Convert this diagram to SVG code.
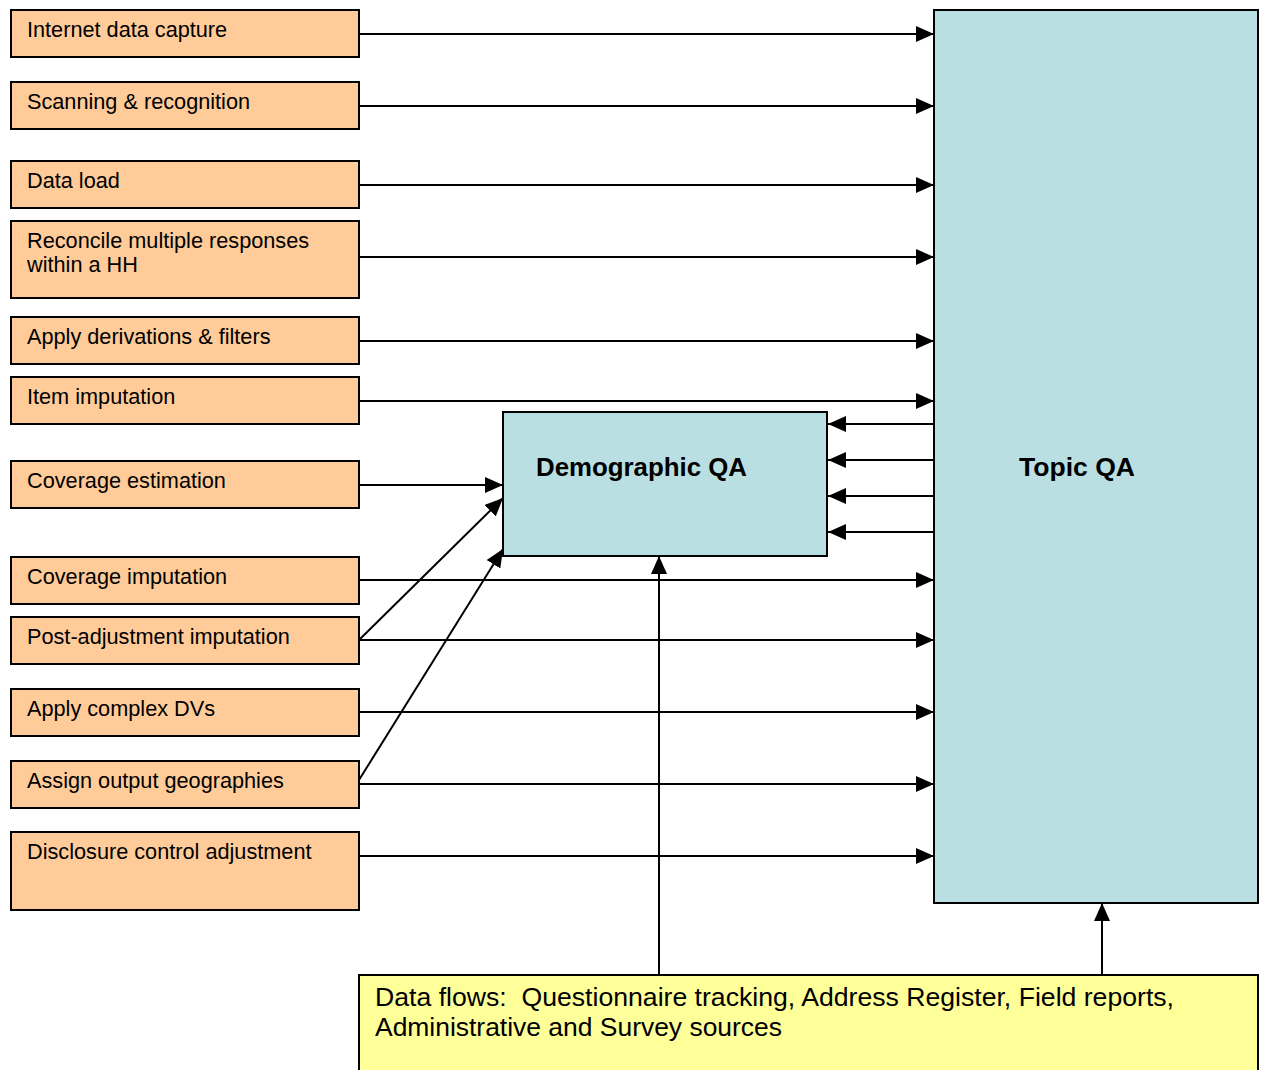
<svg xmlns="http://www.w3.org/2000/svg" width="1264" height="1070" viewBox="0 0 1264 1070">
<style>
.step{fill:#FFCC99;stroke:#000;stroke-width:2}
.qa{fill:#B9DFE2;stroke:#000;stroke-width:2}
.note{fill:#FFFF99;stroke:#000;stroke-width:2}
.t{font-family:"Liberation Sans",Arial,sans-serif;font-size:21.7px;fill:#000}
.b{font-family:"Liberation Sans",Arial,sans-serif;font-size:25px;font-weight:bold;fill:#000}
.n{font-family:"Liberation Sans",Arial,sans-serif;font-size:25px;fill:#000}
.c{stroke:#000;stroke-width:2;fill:none;marker-end:url(#ah)}
</style>
<defs>
<marker id="ah" markerWidth="18" markerHeight="16" refX="18" refY="8" orient="auto" markerUnits="userSpaceOnUse">
<path d="M0,0 L18,8 L0,16 Z" fill="#000"/>
</marker>
</defs>
<rect width="1264" height="1070" fill="#fff"/>
<g id="topic-qa"><rect class="qa" x="934" y="10" width="324" height="893"/><text class="b" x="1019" y="476" textLength="116" lengthAdjust="spacingAndGlyphs">Topic QA</text></g>
<g id="demographic-qa"><rect class="qa" x="503" y="412" width="324" height="144"/><text class="b" x="536" y="476" textLength="211" lengthAdjust="spacingAndGlyphs">Demographic QA</text></g>
<g id="data-flows"><rect class="note" x="359" y="975" width="899" height="100"/><text class="n" x="375" y="1006" textLength="799" lengthAdjust="spacingAndGlyphs">Data flows:&#160; Questionnaire tracking, Address Register, Field reports,</text><text class="n" x="375" y="1036" textLength="407" lengthAdjust="spacingAndGlyphs">Administrative and Survey sources</text></g>
<g id="n1"><rect class="step" x="11" y="10" width="348" height="47"/><text class="t" x="27" y="37">Internet data capture</text></g>
<g id="n2"><rect class="step" x="11" y="82" width="348" height="47"/><text class="t" x="27" y="109">Scanning &amp; recognition</text></g>
<g id="n3"><rect class="step" x="11" y="161" width="348" height="47"/><text class="t" x="27" y="188">Data load</text></g>
<g id="n4"><rect class="step" x="11" y="221" width="348" height="77"/><text class="t" x="27" y="248">Reconcile multiple responses</text><text class="t" x="27" y="272">within a HH</text></g>
<g id="n5"><rect class="step" x="11" y="317" width="348" height="47"/><text class="t" x="27" y="344">Apply derivations &amp; filters</text></g>
<g id="n6"><rect class="step" x="11" y="377" width="348" height="47"/><text class="t" x="27" y="404">Item imputation</text></g>
<g id="n7"><rect class="step" x="11" y="461" width="348" height="47"/><text class="t" x="27" y="488">Coverage estimation</text></g>
<g id="n8"><rect class="step" x="11" y="557" width="348" height="47"/><text class="t" x="27" y="584">Coverage imputation</text></g>
<g id="n9"><rect class="step" x="11" y="617" width="348" height="47"/><text class="t" x="27" y="644">Post-adjustment imputation</text></g>
<g id="n10"><rect class="step" x="11" y="689" width="348" height="47"/><text class="t" x="27" y="716">Apply complex DVs</text></g>
<g id="n11"><rect class="step" x="11" y="761" width="348" height="47"/><text class="t" x="27" y="788">Assign output geographies</text></g>
<g id="n12"><rect class="step" x="11" y="832" width="348" height="78"/><text class="t" x="27" y="859">Disclosure control adjustment</text></g>
<g id="connectors">
<line class="c" x1="359" y1="34" x2="934" y2="34"/>
<line class="c" x1="359" y1="106" x2="934" y2="106"/>
<line class="c" x1="359" y1="185" x2="934" y2="185"/>
<line class="c" x1="359" y1="257" x2="934" y2="257"/>
<line class="c" x1="359" y1="341" x2="934" y2="341"/>
<line class="c" x1="359" y1="401" x2="934" y2="401"/>
<line class="c" x1="359" y1="485" x2="503" y2="485"/>
<line class="c" x1="359" y1="580" x2="934" y2="580"/>
<line class="c" x1="359" y1="640" x2="934" y2="640"/>
<line class="c" x1="359" y1="712" x2="934" y2="712"/>
<line class="c" x1="359" y1="784" x2="934" y2="784"/>
<line class="c" x1="359" y1="856" x2="934" y2="856"/>
<line class="c" x1="359" y1="640" x2="503" y2="498"/>
<line class="c" x1="359" y1="780" x2="503" y2="549"/>
<line class="c" x1="934" y1="424" x2="828" y2="424"/>
<line class="c" x1="934" y1="460" x2="828" y2="460"/>
<line class="c" x1="934" y1="496" x2="828" y2="496"/>
<line class="c" x1="934" y1="532" x2="828" y2="532"/>
<line class="c" x1="659" y1="975" x2="659" y2="556"/>
<line class="c" x1="1102" y1="975" x2="1102" y2="903"/>
</g>
</svg>
